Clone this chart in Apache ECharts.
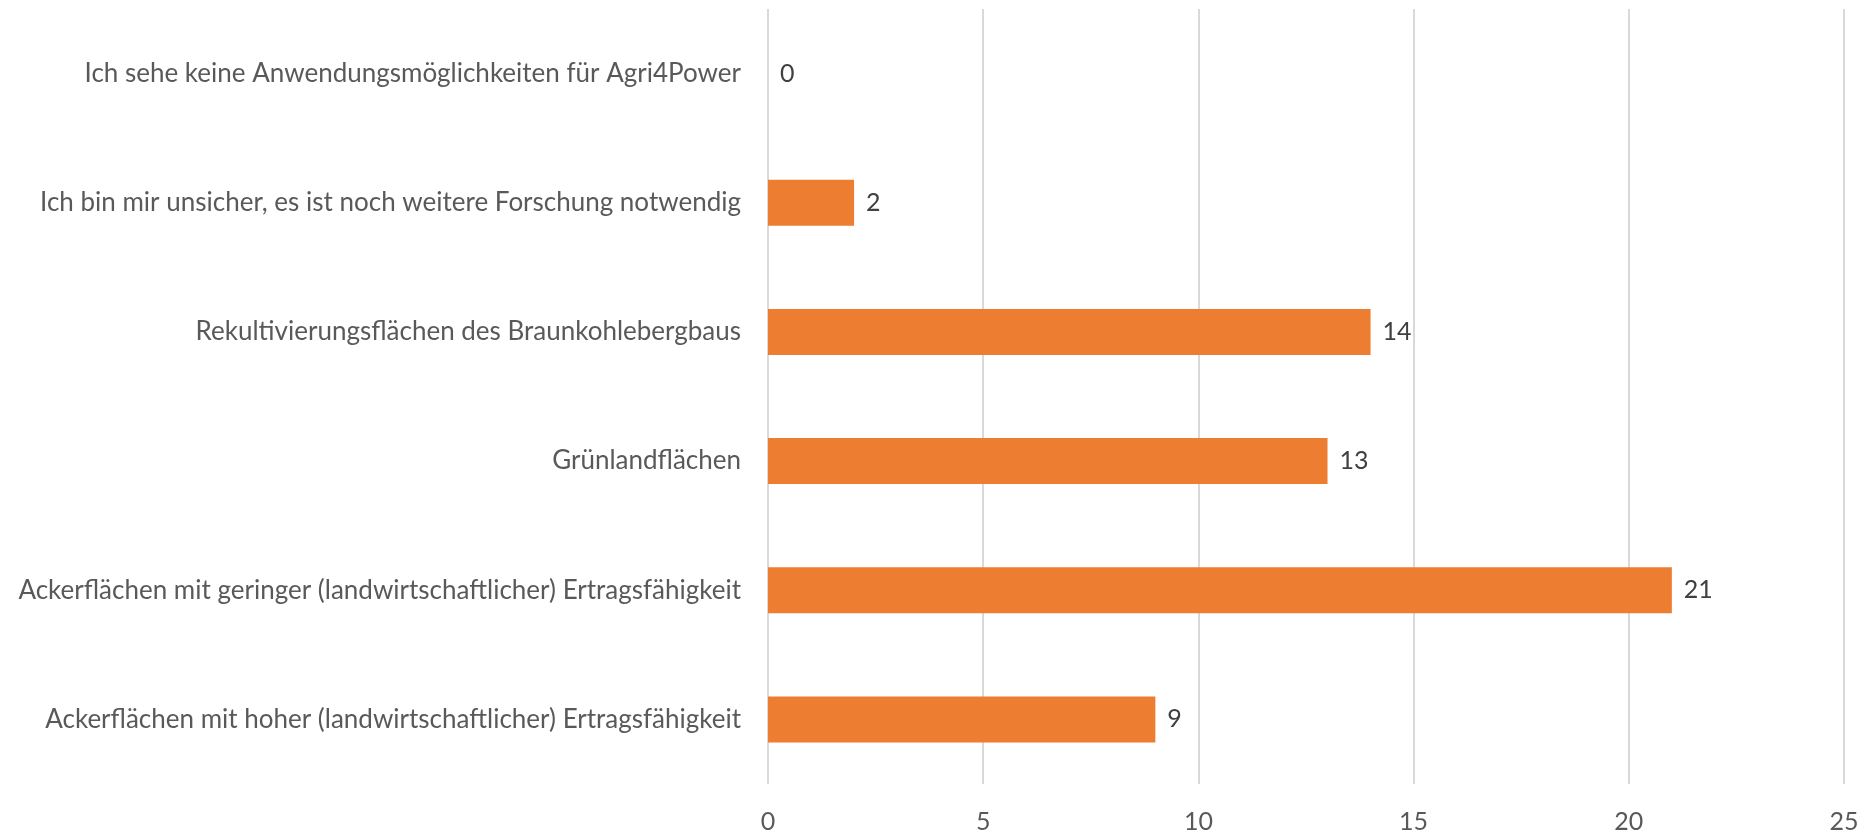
<!DOCTYPE html>
<html>
<head>
<meta charset="utf-8">
<script src="https://cdn.jsdelivr.net/npm/echarts@6/dist/echarts.min.js"></script>
<style>
  html, body { margin: 0; padding: 0; background: #fff; }
  #chart { width: 1874px; height: 834px; }
</style>
</head>
<body>
<div id="chart"></div>
<script>
// categories from bottom to top (ECharts category axis runs bottom-up)
var categories = [
  "Ackerflächen mit hoher (landwirtschaftlicher) Ertragsfähigkeit",
  "Ackerflächen mit geringer (landwirtschaftlicher) Ertragsfähigkeit",
  "Grünlandflächen",
  "Rekultivierungsflächen des Braunkohlebergbaus",
  "Ich bin mir unsicher, es ist noch weitere Forschung notwendig",
  "Ich sehe keine Anwendungsmöglichkeiten für Agri4Power"
];
var counts = [9, 21, 13, 14, 2, 0];
var xTicks = [0, 5, 10, 15, 20, 25];

var chart = echarts.init(document.getElementById("chart"));

var option = {
  animation: false,
  textStyle: { fontFamily: "Lato, 'Open Sans', sans-serif" },
  grid: {
    left: 768,
    right: 30,
    top: 9,
    bottom: 47
  },
  xAxis: {
    type: "value",
    min: xTicks[0],
    max: xTicks[xTicks.length - 1],
    interval: 5,
    axisLine: { show: false },
    axisTick: { show: false },
    axisLabel: {
      color: "#595959",
      fontSize: 25,
      margin: 25,
      fontFamily: "Lato, sans-serif"
    },
    splitLine: { show: true, lineStyle: { color: "#D9D9D9", width: 2 } }
  },
  yAxis: {
    type: "category",
    data: categories,
    axisLine: { show: false },
    axisTick: { show: false },
    axisLabel: {
      color: "#595959",
      fontSize: 26,
      margin: 27,
      fontFamily: "Lato, sans-serif"
    }
  },
  series: [
    {
      type: "bar",
      data: counts,
      barWidth: 46,
      itemStyle: { color: "#ED7D31" },
      label: {
        show: true,
        position: "right",
        distance: 12,
        color: "#404040",
        fontSize: 25,
        fontFamily: "Lato, sans-serif"
      }
    }
  ]
};

chart.setOption(option);
window.addEventListener("resize", function () { chart.resize(); });
</script>
</body>
</html>
